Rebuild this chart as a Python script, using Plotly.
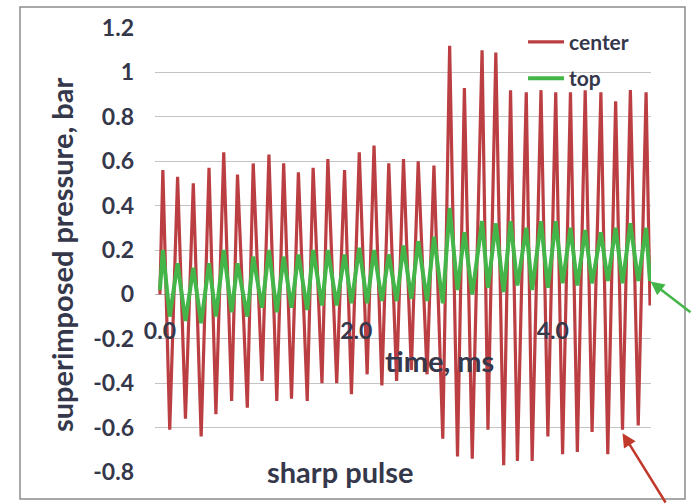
import plotly.graph_objects as go

# ---- data (time in ms, pressure in bar) ----
peak_t = [0.03, 0.18, 0.34, 0.50, 0.65, 0.79, 0.95, 1.11, 1.26, 1.41, 1.56, 1.71, 1.88,
          2.03, 2.18, 2.33, 2.48, 2.63, 2.79, 2.95, 3.10, 3.28, 3.42, 3.57, 3.73, 3.88,
          4.03, 4.18, 4.33, 4.49, 4.64, 4.79, 4.95]
trough_t = [0.10, 0.26, 0.42, 0.57, 0.73, 0.89, 1.04, 1.19, 1.34, 1.50, 1.65, 1.80, 1.95,
            2.11, 2.26, 2.41, 2.56, 2.72, 2.88, 3.03, 3.18, 3.34, 3.50, 3.64, 3.79, 3.95,
            4.10, 4.25, 4.40, 4.56, 4.71, 4.87]

center_peaks = [0.56, 0.53, 0.50, 0.57, 0.64, 0.54, 0.59, 0.63, 0.59, 0.55, 0.57, 0.61, 0.56,
                0.64, 0.67, 0.59, 0.61, 0.60, 0.58, 1.12, 0.93, 1.10, 1.09, 0.92, 0.91, 0.92,
                0.91, 0.91, 0.92, 0.91, 0.87, 0.92, 0.91]
center_troughs = [-0.61, -0.56, -0.64, -0.54, -0.48, -0.51, -0.39, -0.48, -0.47, -0.48, -0.40,
                  -0.40, -0.45, -0.36, -0.41, -0.39, -0.34, -0.36, -0.65, -0.73, -0.74, -0.61,
                  -0.77, -0.75, -0.75, -0.64, -0.72, -0.71, -0.62, -0.72, -0.61, -0.59]

top_peaks = [0.20, 0.14, 0.12, 0.14, 0.20, 0.14, 0.17, 0.20, 0.17, 0.18, 0.20, 0.20, 0.18,
             0.21, 0.20, 0.18, 0.22, 0.24, 0.26, 0.39, 0.28, 0.33, 0.32, 0.33, 0.30, 0.33,
             0.33, 0.30, 0.29, 0.28, 0.30, 0.32, 0.30]
top_troughs = [-0.10, -0.12, -0.13, -0.10, -0.08, -0.10, -0.06, -0.08, -0.06, -0.07, -0.05,
               -0.05, -0.04, -0.04, -0.03, -0.03, -0.02, -0.03, -0.04, 0.02, 0.00, 0.03,
               0.01, 0.04, 0.02, 0.03, 0.05, 0.04, 0.05, 0.06, 0.05, 0.06]

start_t, end_t = 0.0, 4.99
center_start, center_end = 0.0, -0.05
top_start, top_end = 0.02, 0.06

y_tickvals = [1.2, 1.0, 0.8, 0.6, 0.4, 0.2, 0.0, -0.2, -0.4, -0.6, -0.8]
y_ticktext = ["1.2", "1", "0.8", "0.6", "0.4", "0.2", "0", "-0.2", "-0.4", "-0.6", "-0.8"]
x_tickvals = [0.0, 2.0, 4.0]
x_ticktext = ["0.0", "2.0", "4.0"]


def build(start_v, peaks, troughs, end_v):
    xs, ys = [start_t], [start_v]
    for i, p in enumerate(peaks):
        xs.append(peak_t[i]); ys.append(p)
        if i < len(troughs):
            xs.append(trough_t[i]); ys.append(troughs[i])
    xs.append(end_t); ys.append(end_v)
    return xs, ys


cx, cy = build(center_start, center_peaks, center_troughs, center_end)
tx, ty = build(top_start, top_peaks, top_troughs, top_end)

RED = "#bb3f42"
GREEN = "#44b649"
TXT = "#35374b"
FONT = "Lato"

fig = go.Figure()
fig.add_trace(go.Scatter(x=cx, y=cy, mode="lines", name="center", legendgroup="c",
                         line=dict(color=RED, width=3.2)))
fig.add_trace(go.Scatter(x=tx, y=ty, mode="lines", name="top", legendgroup="t",
                         line=dict(color=GREEN, width=4)))

fig.update_layout(
    width=692, height=504,
    margin=dict(l=155, r=41, t=28, b=32),
    paper_bgcolor="white", plot_bgcolor="white",
    font=dict(family=FONT, color=TXT),
    showlegend=True,
    legend=dict(x=0.742, y=1.014, xanchor="left", yanchor="top", bgcolor="rgba(0,0,0,0)",
                tracegroupgap=6, itemwidth=36,
                font=dict(family=FONT, size=21, color=TXT, weight="bold")),
    xaxis=dict(range=[-0.05, 5.0], tickvals=x_tickvals, ticktext=x_ticktext,
               showgrid=False, zeroline=False, showline=False,
               anchor="free", position=(0.8 / 2.0),
               ticks="", ticklabelstandoff=21,
               tickfont=dict(family=FONT, size=23, color=TXT, weight="bold")),
    yaxis=dict(range=[-0.8, 1.2], tickvals=y_tickvals, ticktext=y_ticktext,
               showgrid=True, gridcolor="#c4c4c4", gridwidth=1,
               zeroline=True, zerolinecolor="#b0b0b0", zerolinewidth=1,
               showline=False, ticks="", ticklabelstandoff=20,
               tickfont=dict(family=FONT, size=23, color=TXT, weight="bold")),
)

# axis titles and note
fig.add_annotation(text="superimposed pressure, bar", xref="paper", yref="paper",
                   x=(61 - 155) / 496, y=(472 - 255) / 444, textangle=-90,
                   showarrow=False, xanchor="center", yanchor="middle",
                   font=dict(family=FONT, size=29, color=TXT, weight="bold"))
fig.add_annotation(text="time, ms", xref="paper", yref="paper",
                   x=(439 - 155) / 496, y=(472 - 360) / 444,
                   showarrow=False, xanchor="center", yanchor="middle",
                   font=dict(family=FONT, size=29, color=TXT, weight="bold"))
fig.add_annotation(text="sharp pulse", xref="paper", yref="paper",
                   x=(339.5 - 155) / 496, y=(472 - 471) / 444,
                   showarrow=False, xanchor="center", yanchor="middle",
                   font=dict(family=FONT, size=29, color=TXT, weight="bold"))

# pointer arrows
fig.add_annotation(x=4.995, y=0.058, xref="x", yref="y", text="", showarrow=True,
                   ax=44, ay=32, arrowhead=2, arrowsize=1.1, arrowwidth=2.5,
                   arrowcolor=GREEN)
fig.add_annotation(x=4.71, y=-0.625, xref="x", yref="y", text="", showarrow=True,
                   ax=44, ay=74, arrowhead=2, arrowsize=1.1, arrowwidth=2.5,
                   arrowcolor="#c0392b")

# chart border
fig.add_shape(type="rect", xref="paper", yref="paper",
              x0=(20 - 155) / 496, x1=(685 - 155) / 496,
              y0=(472 - 499) / 444, y1=(472 - 7) / 444,
              line=dict(color="#8c8c8c", width=1.5), fillcolor="rgba(0,0,0,0)", layer="below")

fig.write_html("out.html", config={"displayModeBar": False},
               post_script="document.body.style.margin='0';document.body.style.overflow='hidden';")
